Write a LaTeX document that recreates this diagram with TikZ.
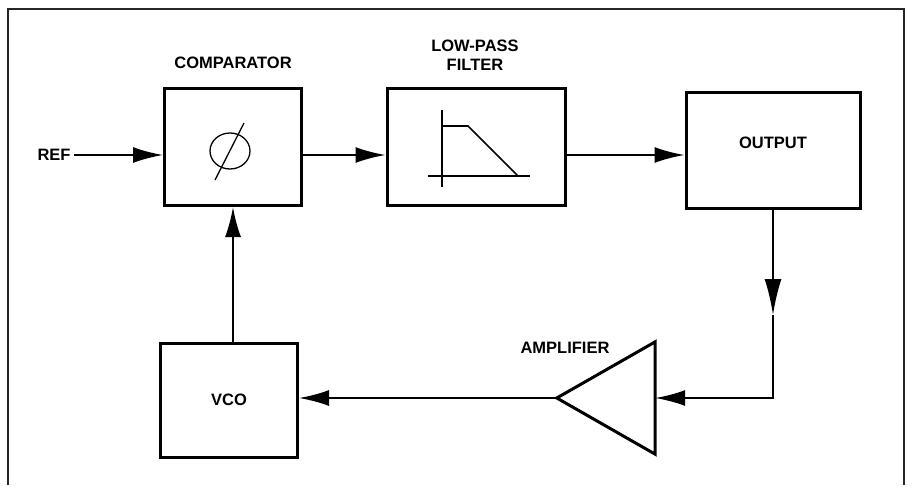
\documentclass[tikz,border=0pt]{standalone}
\usepackage{fontspec}
\setmainfont{Liberation Sans}
\usetikzlibrary{arrows.meta}

\begin{document}
\begin{tikzpicture}[x=1pt, y=-1pt,
  box/.style={draw, line width=3pt, inner sep=0pt},
  lbl/.style={font=\fontsize{16.5}{19}\selectfont\bfseries, align=center},
  wire/.style={line width=2pt},
  arr/.style={wire, -{Latex[length=30pt, width=16pt]}}]

\useasboundingbox (0,0) rectangle (912,485);

% frame
\draw[line width=1.8pt, black!85] (8,485) -- (8,9) -- (904,9) -- (904,485);

% blocks
\node[box, minimum width=137pt, minimum height=117pt] at (233,147) (cmp) {};
\node[box, minimum width=178pt, minimum height=117pt] at (476,147) (lpf) {};
\node[box, minimum width=174pt, minimum height=116pt] at (773,150) (out) {};
\node[box, minimum width=137pt, minimum height=114pt] at (229,400) (vco) {};
\node[minimum width=98pt, minimum height=112pt, inner sep=0pt] at (606,398) (amp) {};
\draw[line width=3pt, line join=miter] (amp.west) -- (amp.north east) -- (amp.south east) -- cycle;

% labels
\node[lbl] at (233,63) (a1) {COMPARATOR};
\node[lbl] at (475,55) (a2) {LOW-PASS\\FILTER};
\node[lbl] at (773,143) (a3) {OUTPUT};
\node[lbl] at (229,400) (a4) {VCO};
\node[lbl] at (565,348) (a5) {AMPLIFIER};
\node[lbl] at (54,155) (ref) {REF};

% phase symbol
\draw[line width=1.3pt] (230,151) ellipse [x radius=20pt, y radius=18pt];
\draw[line width=1.3pt] (215,180) -- (244,123);

% filter response
\draw[line width=1.3pt] (442,110) -- (442,187);
\draw[line width=1.3pt] (428,176) -- (530,176);
\draw[line width=1.6pt] (442,126) -- (468,126) -- (518,176);

% signal path
\draw[arr] (ref) -- (ref -| cmp.west);
\draw[arr] (ref -| cmp.east) -- (ref -| lpf.west);
\draw[arr] (ref -| lpf.east) -- (ref -| out.west);

\coordinate (dn) at (773,315);
\draw[wire, -{Latex[length=36pt, width=17pt]}] (out.south) -- (dn);
\draw[arr] (dn) |- (amp.east);
\draw[arr] (amp.west) -- (amp.west -| vco.east);
\draw[arr] (cmp.south |- vco.north) -- (cmp.south);

\end{tikzpicture}
\end{document}
